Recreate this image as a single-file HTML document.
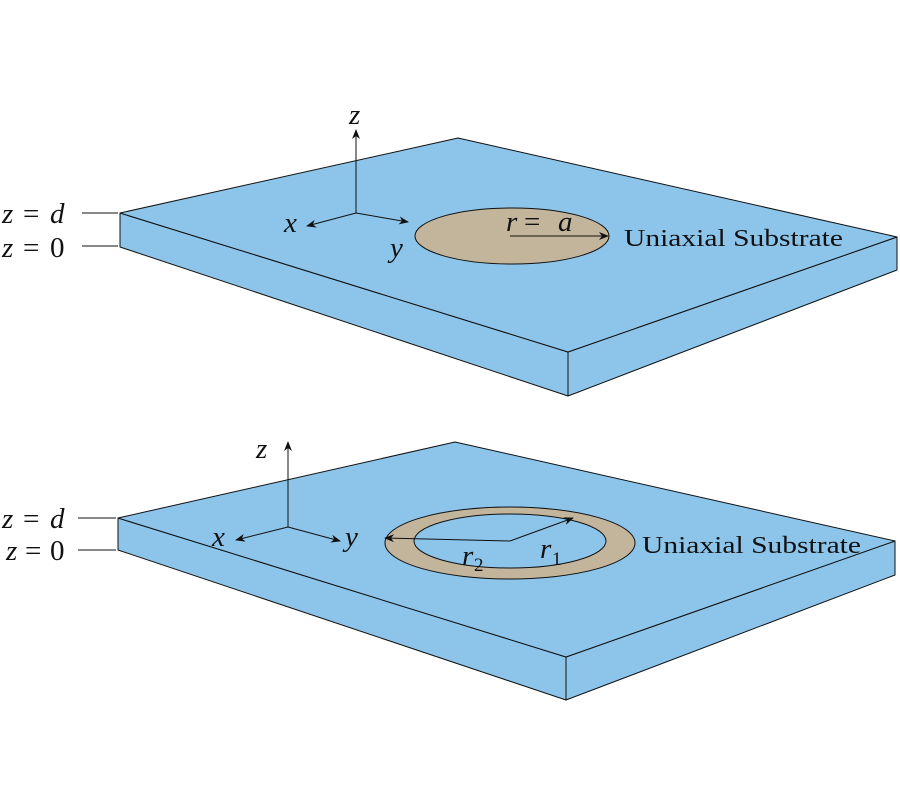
<!DOCTYPE html>
<html><head><style>body{margin:0;background:#fff}svg{display:block}</style></head><body>
<svg width="900" height="800" viewBox="0 0 900 800" xmlns="http://www.w3.org/2000/svg">
<defs><marker id="a" markerWidth="10" markerHeight="8" refX="9" refY="4" orient="auto" markerUnits="userSpaceOnUse"><path d="M0,0 L10,4 L0,8 L3,4z" fill="#111"/></marker></defs>
<g stroke="#111" stroke-width="1" fill="#8cc4ea" stroke-linejoin="round">
<polygon points="120,213 568,352 568,396 120,247"/>
<polygon points="568,352 897,237 897,270 568,396"/>
<polygon points="120,213 458,138 897,237 568,352"/>
<polygon points="118,518 566,657 566,700 118,550"/>
<polygon points="566,657 895,541 895,575 566,700"/>
<polygon points="118,518 455,442 895,541 566,657"/>
</g>
<g stroke="#111" stroke-width="1">
<line x1="82" y1="213" x2="118" y2="213"/><line x1="82" y1="246" x2="118" y2="246"/>
<line x1="78" y1="518" x2="116" y2="518"/><line x1="78" y1="550" x2="116" y2="550"/>
</g>
<ellipse cx="512" cy="236" rx="97" ry="28" fill="#c2b59b" stroke="#111"/>
<ellipse cx="510" cy="543" rx="125" ry="36" fill="#c2b59b" stroke="#111"/>
<ellipse cx="510" cy="541" rx="96" ry="27" fill="#8cc4ea" stroke="#111"/>
<g stroke="#111" stroke-width="1" fill="none" marker-end="url(#a)">
<line x1="356" y1="213" x2="356" y2="130"/><line x1="356" y1="213" x2="307" y2="226"/><line x1="356" y1="213" x2="408" y2="222"/>
<line x1="510" y1="236" x2="608" y2="236"/>
<line x1="288" y1="527" x2="288" y2="442"/><line x1="288" y1="527" x2="236" y2="540"/><line x1="288" y1="527" x2="340" y2="541"/>
<line x1="510" y1="541" x2="385" y2="538"/><line x1="510" y1="541" x2="573" y2="518"/>
</g>
<g font-family="Liberation Serif,serif" font-size="29" fill="#111">
<text x="2" y="223" font-style="italic">z</text><text x="23" y="223">=</text><text x="50" y="223" font-style="italic">d</text>
<text x="2" y="257" font-style="italic">z</text><text x="23" y="257">=</text><text x="50" y="257">0</text>
<text x="2" y="528" font-style="italic">z</text><text x="23" y="528">=</text><text x="50" y="528" font-style="italic">d</text>
<text x="6" y="560" font-style="italic">z</text><text x="25" y="560">=</text><text x="50" y="560">0</text>
<text x="349" y="124" font-style="italic">z</text><text x="284" y="232" font-style="italic">x</text><text x="390" y="257" font-style="italic">y</text>
<text x="506" y="231" font-style="italic">r</text><text x="524" y="231">=</text><text x="558" y="231" font-style="italic">a</text>
<text x="256" y="458" font-style="italic">z</text><text x="212" y="546" font-style="italic">x</text><text x="345" y="546" font-style="italic">y</text>
<text x="462" y="565" font-style="italic">r</text><text x="474" y="571" font-size="19">2</text>
<text x="540" y="558" font-style="italic">r</text><text x="552" y="565" font-size="19">1</text>
<text x="624" y="246" font-size="24" textLength="219" lengthAdjust="spacingAndGlyphs">Uniaxial Substrate</text>
<text x="642" y="553" font-size="24" textLength="219" lengthAdjust="spacingAndGlyphs">Uniaxial Substrate</text>
</g>
</svg>
</body></html>
